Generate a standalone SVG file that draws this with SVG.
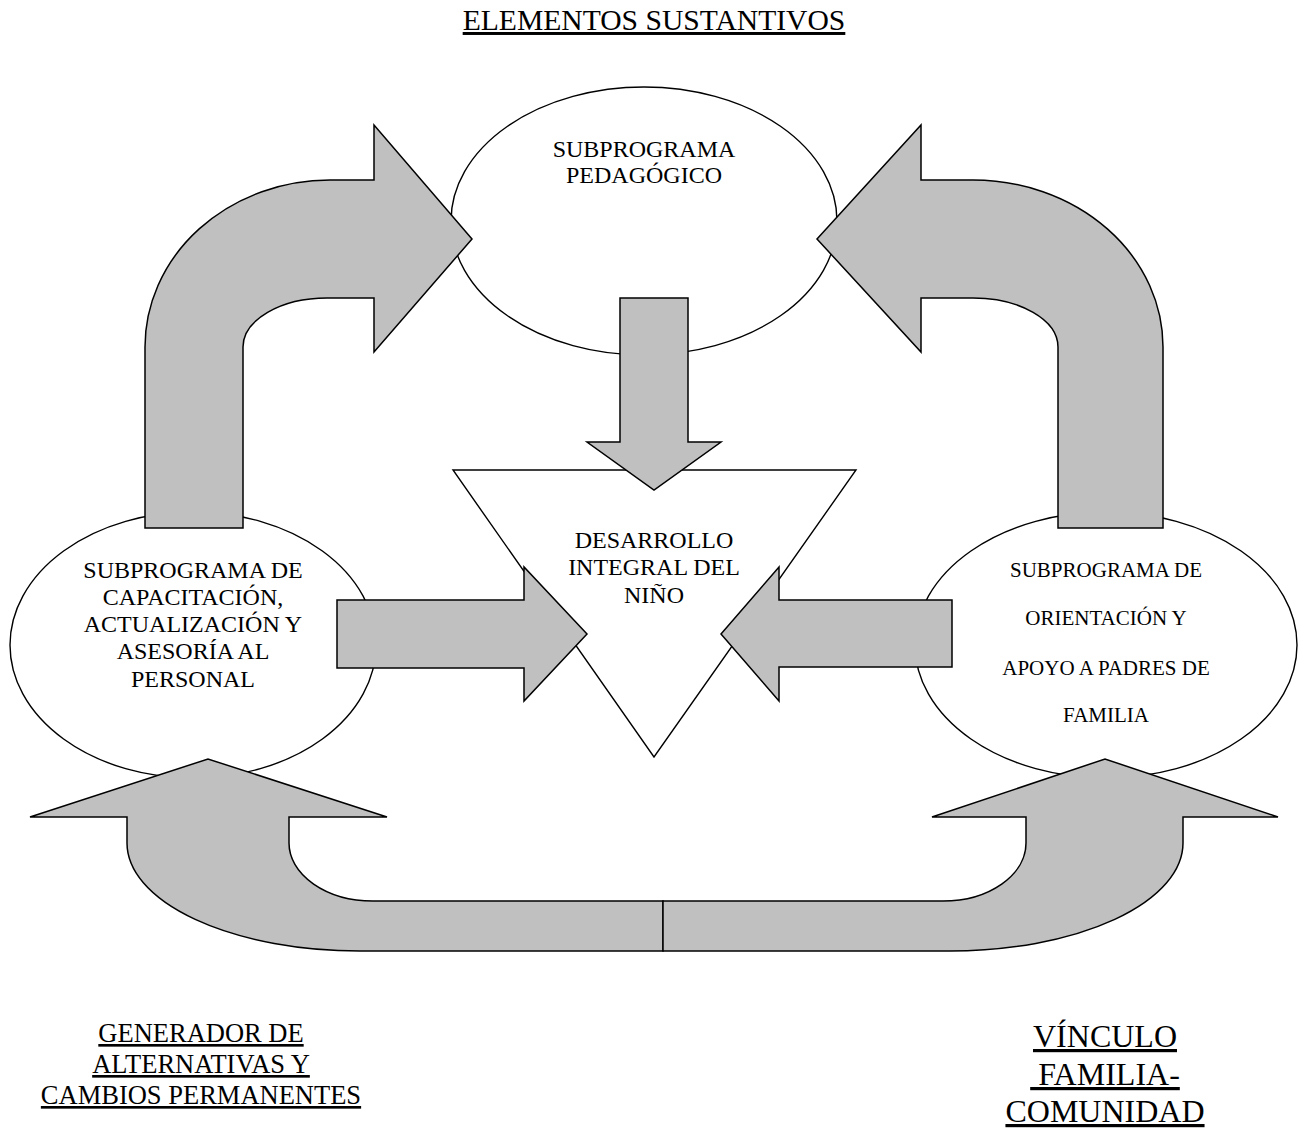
<svg xmlns="http://www.w3.org/2000/svg" width="1299" height="1128" viewBox="0 0 1299 1128">
<style>
.shape{fill:#ffffff;stroke:#000000;stroke-width:1.4}
.arrow{fill:#c0c0c0;stroke:#000000;stroke-width:1.5;stroke-linejoin:miter}
.t{font-family:"Liberation Serif","Times New Roman",serif;fill:#000000;text-anchor:middle}
.u{text-decoration:underline}
</style>
<rect width="1299" height="1128" fill="#ffffff"/>
<text class="t u" x="654" y="30" font-size="29.6">ELEMENTOS SUSTANTIVOS</text>

<g id="node-pedagogico">
<ellipse class="shape" cx="644" cy="221" rx="193" ry="134"/>
<text class="t" x="644" y="157" font-size="24">SUBPROGRAMA</text>
<text class="t" x="644" y="183" font-size="24">PEDAGÓGICO</text>
</g>
<g id="node-capacitacion">
<ellipse class="shape" cx="193" cy="645" rx="183" ry="133"/>
<text class="t" x="193" y="578" font-size="24">SUBPROGRAMA DE</text>
<text class="t" x="193" y="605" font-size="24">CAPACITACIÓN,</text>
<text class="t" x="193" y="632" font-size="24">ACTUALIZACIÓN Y</text>
<text class="t" x="193" y="659" font-size="24">ASESORÍA AL</text>
<text class="t" x="193" y="687" font-size="24">PERSONAL</text>
</g>
<g id="node-orientacion">
<ellipse class="shape" cx="1106" cy="645" rx="191" ry="133"/>
<text class="t" x="1106" y="577" font-size="21">SUBPROGRAMA DE</text>
<text class="t" x="1106" y="625" font-size="21">ORIENTACIÓN Y</text>
<text class="t" x="1106" y="675" font-size="21">APOYO A PADRES DE</text>
<text class="t" x="1106" y="722" font-size="21">FAMILIA</text>
</g>
<g id="node-desarrollo">
<polygon class="shape" points="453,470 856,470 654,757"/>
<text class="t" x="654" y="548" font-size="24">DESARROLLO</text>
<text class="t" x="654" y="575" font-size="24">INTEGRAL DEL</text>
<text class="t" x="654" y="603" font-size="24">NIÑO</text>
</g>

<g id="connectors">
<path class="arrow" d="M145,528 L145,347 A185,167 0 0 1 330,180 L374,180 L374,125 L472,239 L374,352 L374,298 L327,298 A84,49 0 0 0 243,347 L243,528 Z"/>
<path class="arrow" d="M1163,528 L1163,347 A190,167 0 0 0 973,180 L921,180 L921,125 L817,239 L921,352 L921,298 L973,298 A85,49 0 0 1 1058,347 L1058,528 Z"/>
<path class="arrow" d="M620,298 L688,298 L688,442 L721,442 L654,490 L587,442 L620,442 Z"/>
<path class="arrow" d="M337,600 L524,600 L524,567 L587,634 L524,701 L524,668 L337,668 Z"/>
<path class="arrow" d="M952,600 L779,600 L779,567 L721,634 L779,701 L779,667 L952,667 Z"/>
<path class="arrow" d="M663,901 L373,901 A84,58 0 0 1 289,843 L289,817 L387,817 L208,759 L30,817 L127,817 L127,843 A233,108 0 0 0 360,951 L663,951 Z"/>
<path class="arrow" d="M663,901 L943,901 A83,58 0 0 0 1026,843 L1026,817 L932,817 L1105,759 L1278,817 L1183,817 L1183,843 A233,108 0 0 1 950,951 L663,951 Z"/>
</g>

<g id="label-generador">
<text class="t u" x="201" y="1042" font-size="26.5">GENERADOR DE</text>
<text class="t u" x="201" y="1073" font-size="26.5">ALTERNATIVAS Y</text>
<text class="t u" x="201" y="1104" font-size="26.5">CAMBIOS PERMANENTES</text>
</g>
<g id="label-vinculo">
<text class="t u" x="1105" y="1047" font-size="32">VÍNCULO</text>
<text class="t u" x="1105" y="1085" font-size="32" xml:space="preserve"> FAMILIA-</text>
<text class="t u" x="1105" y="1122" font-size="32">COMUNIDAD</text>
</g>
</svg>
